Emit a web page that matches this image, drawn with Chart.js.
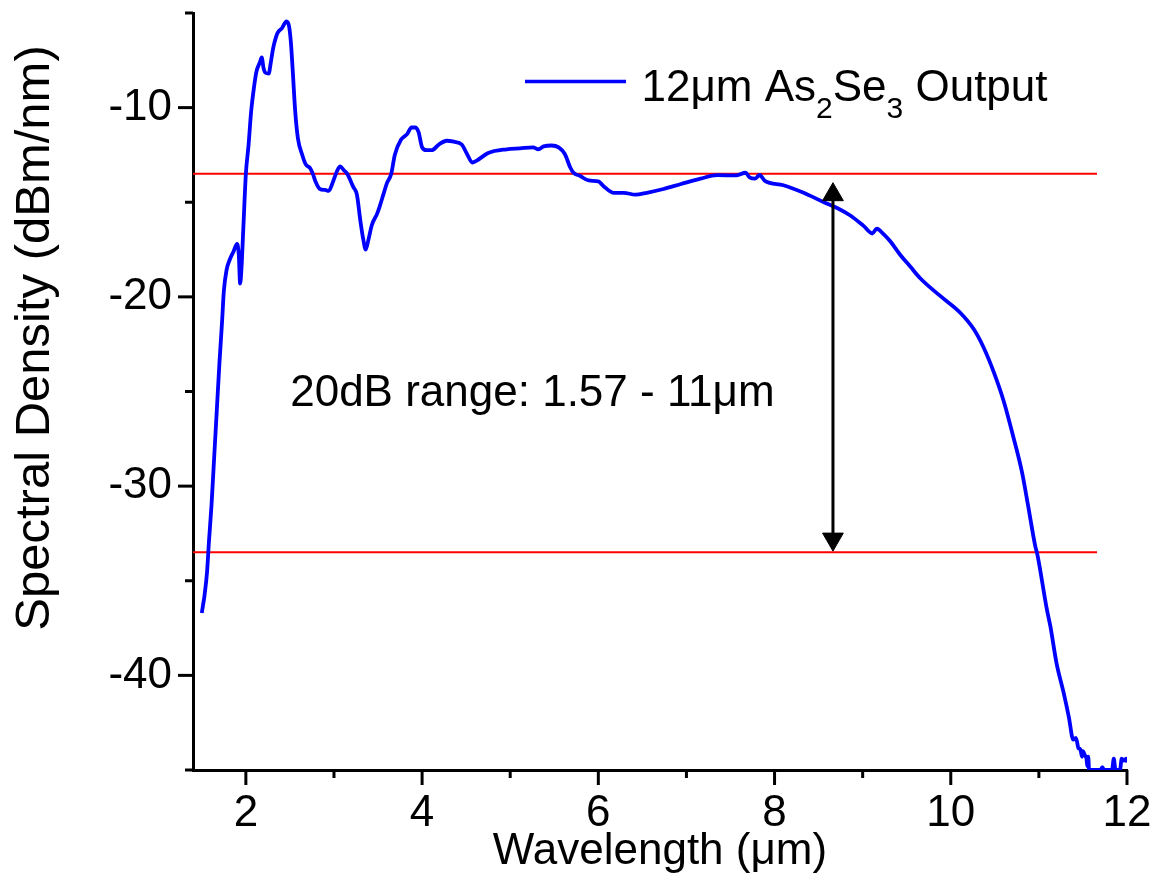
<!DOCTYPE html>
<html><head><meta charset="utf-8">
<script src="https://cdn.jsdelivr.net/npm/chart.js@4.4.1/dist/chart.umd.min.js"></script>
<style>html,body{margin:0;padding:0;background:#fff;}#wrap{width:1163px;height:882px;position:relative;}</style>
</head><body><div id="wrap"><canvas id="c"></canvas></div>
<script>
// ---- data ----
const wavelength = [1.50,1.51,1.53,1.56,1.58,1.61,1.64,1.67,1.70,1.73,1.75,1.78,1.82,1.86,1.90,1.92,1.935,1.95,1.97,2.00,
  2.03,2.06,2.09,2.12,2.16,2.18,2.20,2.22,2.26,2.28,2.31,2.34,2.36,2.41,2.46,2.49,2.51,2.53,2.56,2.59,
  2.64,2.68,2.73,2.76,2.79,2.84,2.90,2.94,2.99,3.03,3.07,3.11,3.15,3.22,3.26,3.30,3.33,3.36,3.39,3.43,
  3.49,3.52,3.56,3.60,3.65,3.69,3.76,3.83,3.88,3.92,3.96,4.00,4.05,4.11,4.19,4.28,4.36,4.45,4.51,4.57,
  4.62,4.75,4.96,5.11,5.26,5.32,5.38,5.47,5.55,5.62,5.68,5.72,5.79,5.89,6.00,6.06,6.17,6.29,6.42,6.55,
  6.74,6.93,7.16,7.35,7.57,7.67,7.72,7.78,7.83,7.89,8.10,8.33,8.56,8.71,8.86,9.01,9.11,9.16,9.24,9.31,
  9.43,9.54,9.65,9.88,10.11,10.26,10.37,10.49,10.60,10.71,10.81,10.88,10.96,10.98,11.09,11.13,11.20,11.28,11.34,11.39,
  11.42,11.45,11.47,11.49,11.50,11.52,11.54,11.55,11.56,11.57,11.60,11.70,11.72,11.74,11.76,11.83,11.85,11.87,11.92,11.94,
  11.96,11.99,12.00];
const density = [-36.7,-36.4,-35.8,-34.5,-33.0,-31.0,-28.5,-26.0,-23.5,-21.3,-19.7,-18.6,-18.0,-17.6,-17.2,-17.8,-19.3,-18.5,-16.5,-13.5,
  -12.0,-10.2,-9.0,-8.1,-7.6,-7.35,-7.9,-8.15,-8.2,-7.7,-6.85,-6.3,-6.05,-5.8,-5.45,-5.7,-6.5,-7.9,-10.2,-11.6,
  -12.5,-13.0,-13.2,-13.5,-13.9,-14.3,-14.35,-14.4,-13.9,-13.4,-13.1,-13.3,-13.5,-14.2,-14.6,-16.0,-16.9,-17.5,-17.0,-16.2,
  -15.6,-15.2,-14.6,-14.0,-13.5,-12.5,-11.7,-11.4,-11.05,-11.05,-11.3,-12.1,-12.25,-12.25,-11.95,-11.75,-11.8,-11.95,-12.45,-12.9,
  -12.8,-12.4,-12.2,-12.15,-12.1,-12.2,-12.05,-12.0,-12.1,-12.45,-13.15,-13.45,-13.6,-13.85,-13.9,-14.15,-14.5,-14.5,-14.6,-14.5,
  -14.3,-14.05,-13.75,-13.57,-13.58,-13.44,-13.7,-13.75,-13.56,-13.87,-14.1,-14.5,-15.0,-15.3,-15.7,-16.25,-16.65,-16.4,-16.7,-17.05,
  -17.8,-18.4,-19.0,-19.95,-20.85,-21.7,-22.65,-24.0,-25.5,-27.4,-29.3,-31.1,-33.2,-33.55,-36.5,-37.4,-39.35,-40.9,-42.2,-43.4,
  -43.3,-43.85,-43.9,-44.3,-44.0,-44.2,-44.4,-44.8,-44.3,-45,-45,-45,-44.85,-45,-45,-45,-44.4,-45,-45,-44.4,
  -44.5,-44.4,-44.6];
const seriesLabel = ['12\u03bcm As', '2', 'Se', '3', ' Output']; // normal, sub, normal, sub, normal
const xMajorTicks = [2, 4, 6, 8, 10, 12];
const xMinorTicks = [3, 5, 7, 9, 11];
const yMajorTicks = [-40, -30, -20, -10];
const yMinorTicks = [-45, -35, -25, -15, -5];
const rangeLevels = [-13.5, -33.5];
const rangeLineX = [1.4, 11.66];
const arrowX = 8.663;
const arrowY = [-14.6, -32.8];
const annotationText = '20dB range: 1.57 - 11\u03bcm';
const annotationAt = [2.503, -25.74];
const xTitle = 'Wavelength (\u03bcm)';
const yTitle = 'Spectral Density (dBm/nm)';

const FONT = "'Liberation Sans', Arial, sans-serif";
Chart.defaults.font.family = FONT;
Chart.defaults.color = '#000';

const extras = {
  id: 'extras',
  afterDraw(chart) {
    const ctx = chart.ctx, xs = chart.scales.x, ys = chart.scales.y, ca = chart.chartArea;
    ctx.save();
    ctx.strokeStyle = '#000'; ctx.lineWidth = 3; ctx.lineCap = 'butt';
    const seg = (a, b, c, d) => { ctx.beginPath(); ctx.moveTo(a, b); ctx.lineTo(c, d); ctx.stroke(); };
    xMajorTicks.forEach(v => { const p = xs.getPixelForValue(v); seg(p, ca.bottom, p, ca.bottom + 15); });
    xMinorTicks.forEach(v => { const p = xs.getPixelForValue(v); seg(p, ca.bottom, p, ca.bottom + 8); });
    yMajorTicks.forEach(v => { const p = ys.getPixelForValue(v); seg(ca.left, p, ca.left - 15, p); });
    yMinorTicks.forEach(v => { const p = ys.getPixelForValue(v); seg(ca.left, p, ca.left - 8, p); });
    // annotation text
    ctx.fillStyle = '#000';
    ctx.font = '44px ' + FONT;
    ctx.textAlign = 'left'; ctx.textBaseline = 'alphabetic';
    ctx.fillText(annotationText, xs.getPixelForValue(annotationAt[0]), ys.getPixelForValue(annotationAt[1]));
    // y title
    ctx.save();
    ctx.translate(35, 338); ctx.rotate(-Math.PI / 2);
    ctx.textAlign = 'center'; ctx.textBaseline = 'middle';
    ctx.font = '49px ' + FONT;
    ctx.fillText(yTitle, 0, 0);
    ctx.restore();
    // legend
    const ds = chart.data.datasets[1];
    ctx.strokeStyle = ds.borderColor; ctx.lineWidth = 3.5;
    seg(525, 81.5, 626, 81.5);
    let x = 641.5; const base = 100.8;
    ctx.textAlign = 'left'; ctx.textBaseline = 'alphabetic'; ctx.fillStyle = '#000';
    seriesLabel.forEach((t, i) => {
      const sub = i % 2 === 1;
      ctx.font = (sub ? '30px ' : '44px ') + FONT;
      ctx.fillText(t, x, base + (sub ? 17 : 0));
      x += ctx.measureText(t).width;
    });
    ctx.restore();
  }
};

const pts = wavelength.map((w, i) => ({ x: w, y: density[i] }));
new Chart(document.getElementById('c'), {
  type: 'line',
  data: {
    datasets: [
      { label: 'arrow', data: arrowY.map(v => ({ x: arrowX, y: v })), borderColor: '#000', borderWidth: 3,
        pointStyle: 'triangle', rotation: [0, 180], pointRadius: 12, pointBackgroundColor: '#000',
        pointBorderColor: '#000', pointBorderWidth: 1 },
      { label: seriesLabel.join(''), data: pts, borderColor: '#0000ff', borderWidth: 3.8, pointRadius: 0,
        cubicInterpolationMode: 'monotone' },
      { label: 'upper', data: rangeLineX.map(v => ({ x: v, y: rangeLevels[0] })), borderColor: '#ff0000', borderWidth: 2, pointRadius: 0 },
      { label: 'lower', data: rangeLineX.map(v => ({ x: v, y: rangeLevels[1] })), borderColor: '#ff0000', borderWidth: 2, pointRadius: 0 }
    ]
  },
  options: {
    responsive: true, maintainAspectRatio: false, animation: false, events: [],
    layout: { padding: { top: 12, right: 36, bottom: 0, left: 0 } },
    plugins: { legend: { display: false }, tooltip: { enabled: false } },
    scales: {
      x: {
        type: 'linear', min: 1.4, max: 12,
        grid: { display: false, drawTicks: false },
        border: { display: true, color: '#000', width: 3 },
        ticks: { stepSize: 1, includeBounds: false, autoSkip: false, maxRotation: 0, padding: 17,
          font: { size: 44 }, color: '#000',
          callback: v => xMajorTicks.includes(v) ? String(v) : '' },
        title: { display: true, text: xTitle, font: { size: 44 }, color: '#000', padding: { top: 0, bottom: 4 } },
        afterFit: s => { s.height = 112; s.paddingLeft = 0; s.paddingRight = 0; }
      },
      y: {
        type: 'linear', min: -45, max: -5,
        grid: { display: false, drawTicks: false },
        border: { display: true, color: '#000', width: 3 },
        ticks: { stepSize: 5, autoSkip: false, padding: 21, font: { size: 44 }, color: '#000',
          callback: v => yMajorTicks.includes(v) ? String(v) : '' },
        afterFit: s => { s.width = 193; s.paddingTop = 0; s.paddingBottom = 0; }
      }
    }
  },
  plugins: [extras]
});
</script></body></html>
